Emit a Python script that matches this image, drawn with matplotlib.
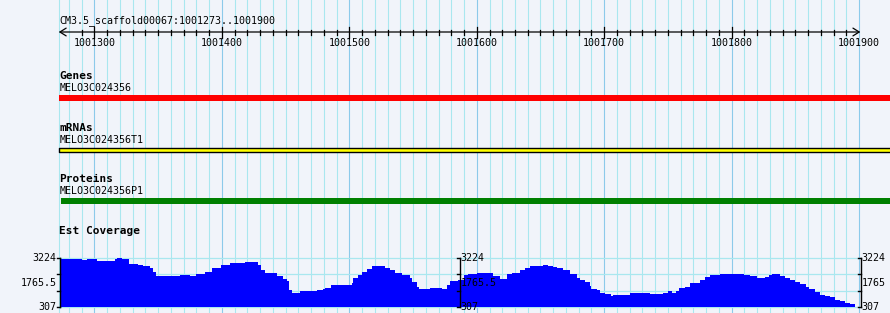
import numpy as np
import matplotlib.pyplot as plt

# === Data ===
ref_name = "CM3.5_scaffold00067"
view_start, view_end = 1001273, 1001900
ruler_labels = [1001300, 1001400, 1001500, 1001600, 1001700, 1001800, 1001900]

gene_name = "MELO3C024356"
mrna_name = "MELO3C024356T1"
protein_name = "MELO3C024356P1"
gene_span = (1001272, 1001950)
mrna_span = (1001272, 1001950)
protein_span = (1001274, 1001950)

cov_min, cov_max = 307, 3224
cov_pos = [1001273, 1001290, 1001294, 1001302, 1001311, 1001316, 1001318, 1001322,
           1001327, 1001334, 1001338, 1001344, 1001346, 1001348, 1001363, 1001367,
           1001375, 1001380, 1001387, 1001392, 1001399, 1001406, 1001412, 1001418,
           1001424, 1001428, 1001431, 1001434, 1001440, 1001443, 1001448, 1001451,
           1001453, 1001455, 1001461, 1001472, 1001475, 1001479, 1001481, 1001486,
           1001494, 1001502, 1001503, 1001507, 1001510, 1001514, 1001518, 1001524,
           1001528, 1001532, 1001536, 1001541, 1001548, 1001549, 1001553, 1001555,
           1001563, 1001573, 1001577, 1001579, 1001585, 1001590, 1001593, 1001600,
           1001613, 1001618, 1001624, 1001628, 1001634, 1001638, 1001642, 1001648,
           1001652, 1001656, 1001660, 1001663, 1001668, 1001673, 1001679, 1001681,
           1001685, 1001689, 1001690, 1001694, 1001697, 1001701, 1001705, 1001707,
           1001719, 1001720, 1001732, 1001736, 1001746, 1001750, 1001753, 1001756,
           1001759, 1001763, 1001767, 1001775, 1001779, 1001783, 1001791, 1001803,
           1001810, 1001814, 1001820, 1001826, 1001829, 1001832, 1001834, 1001838,
           1001842, 1001846, 1001850, 1001854, 1001858, 1001861, 1001865, 1001869,
           1001873, 1001877, 1001881, 1001885, 1001889, 1001893, 1001897]
cov_val = [3164, 3105, 3164, 3075, 3075, 3194, 3224, 3164,
           2849, 2837, 2748, 2658, 2391, 2170, 2170, 2212,
           2152, 2254, 2420, 2629, 2807, 2908, 2897, 2986,
           2986, 2807, 2539, 2349, 2331, 2152, 1974, 1855,
           1319, 1158, 1242, 1242, 1319, 1349, 1456, 1617,
           1646, 1765, 2033, 2212, 2391, 2569, 2748, 2748,
           2658, 2480, 2331, 2212, 2033, 1795, 1498, 1379,
           1438, 1396, 1617, 1855, 1914, 2212, 2271, 2313,
           2182, 1956, 2271, 2331, 2539, 2658, 2718, 2777,
           2807, 2777, 2688, 2599, 2510, 2271, 2033, 1914,
           1795, 1557, 1379, 1319, 1140, 1081, 962, 1021,
           1051, 1158, 1123, 1063, 1158, 1259, 1158, 1289,
           1438, 1527, 1736, 1914, 2093, 2212, 2271, 2254,
           2212, 2152, 2051, 2093, 2212, 2271, 2242, 2182,
           2033, 1914, 1795, 1676, 1498, 1349, 1200, 1051,
           962, 873, 753, 664, 563, 456, 367]
cov_ticks = [307, 1279, 2252, 3224]
cov_labels = [(cov_max, "3224"), ((cov_min + cov_max) / 2, "1765.5"), (cov_min, "307")]
right_labels = [(cov_max, "3224"), ((cov_min + cov_max) / 2, "1765"), (cov_min, "307")]
mid_axis_pos = 1001587
right_axis_pos = 1001901.5

# === Setup ===
W, H = 890, 313
px_per_bp = 1.2745
bp_left = view_start - 60 / px_per_bp
bp_right = view_start + (W - 60) / px_per_bp

bg = "#f1f4fa"
grid_minor = "#a9e7ef"
grid_major = "#8ccaea"
mono = "DejaVu Sans Mono"

fig = plt.figure(figsize=(W / 100, H / 100), dpi=100)
fig.patch.set_facecolor(bg)
ax = fig.add_axes([0, 0, 1, 1])
ax.set_xlim(bp_left, bp_right)
ax.set_ylim(H, 0)
ax.axis("off")

# vertical grid lines every 10 bp
grid_x = np.arange(1001280, view_end + 1, 10)
for gx in grid_x:
    col = grid_major if gx % 100 == 0 else grid_minor
    ax.axvline(gx, color=col, lw=0.8, zorder=0)
ax.axvline(view_start - 0.5, color=grid_minor, lw=0.8, zorder=0)

# === Ruler ===
ax.text(view_start - 0.5, 21, f"{ref_name}:{view_start}..{view_end}", fontsize=7.2,
        family=mono, va="center", ha="left")
ax.annotate("", xy=(view_start - 1, 32), xytext=(view_end + 1, 32),
            arrowprops=dict(arrowstyle="<->, head_length=0.45, head_width=0.28",
                            color="black", lw=0.9, shrinkA=0, shrinkB=0))
for tx in range(1001290, view_end, 10):
    if tx % 100 == 0:
        ax.plot([tx, tx], [27, 37.5], color="black", lw=0.9)
    else:
        ax.plot([tx, tx], [30, 34.5], color="black", lw=0.9)
for lab in ruler_labels:
    ax.text(lab, 42.5, str(lab), fontsize=7.2, family=mono, ha="center", va="center")

# === Feature tracks ===
ax.text(view_start - 0.5, 76, "Genes", fontsize=8, family=mono, weight="bold", va="center")
ax.text(view_start - 0.5, 88, gene_name, fontsize=7.2, family=mono, va="center")
ax.fill_between(gene_span, 95, 101, color="#ff0000", lw=0, zorder=3)

ax.text(view_start - 0.5, 128, "mRNAs", fontsize=8, family=mono, weight="bold", va="center")
ax.text(view_start - 0.5, 140, mrna_name, fontsize=7.2, family=mono, va="center")
ax.fill_between(mrna_span, 147.5, 151.5, facecolor="#ffff00", edgecolor="black", lw=1.0, zorder=3)

ax.text(view_start - 0.5, 178.5, "Proteins", fontsize=8, family=mono, weight="bold", va="center")
ax.text(view_start - 0.5, 191, protein_name, fontsize=7.2, family=mono, va="center")
ax.fill_between(protein_span, 197.5, 204, color="#008000", lw=0, zorder=3)

ax.text(view_start - 0.5, 230.5, "Est Coverage", fontsize=8, family=mono, weight="bold", va="center")

# === Coverage ===
cov = fig.add_axes([0, (H - 307) / H, 1, 49 / H])
cov.set_xlim(bp_left, bp_right)
cov.set_ylim(cov_min, cov_max)
cov.patch.set_alpha(0)
cov.axis("off")

for ty in cov_ticks:
    cov.plot([view_start, right_axis_pos], [ty, ty], color=grid_minor, lw=0.9, zorder=1,
             clip_on=False)
cov.fill_between(cov_pos, cov_min, cov_val, step="post", color="#0000ff", lw=0, zorder=2)

tick_len = 3 / px_per_bp
for axis_x, labels, side in [(view_start, cov_labels, "left"),
                             (mid_axis_pos, cov_labels, "right"),
                             (right_axis_pos, right_labels, "right")]:
    cov.plot([axis_x, axis_x], [cov_min, cov_max], color="black", lw=1.0, zorder=4,
             clip_on=False)
    for ty in cov_ticks:
        cov.plot([axis_x - tick_len, axis_x], [ty, ty], color="black", lw=1.0, zorder=4,
                 clip_on=False)
    for ty, txt in labels:
        if side == "left":
            cov.text(axis_x - 3.3 / px_per_bp, ty, txt, fontsize=7.2, family=mono,
                     ha="right", va="center", zorder=5, clip_on=False)
        else:
            cov.text(axis_x + 0.6 / px_per_bp, ty, txt, fontsize=7.2, family=mono,
                     ha="left", va="center", zorder=5, clip_on=False)

fig.savefig("out.png", dpi=100, facecolor=bg)
